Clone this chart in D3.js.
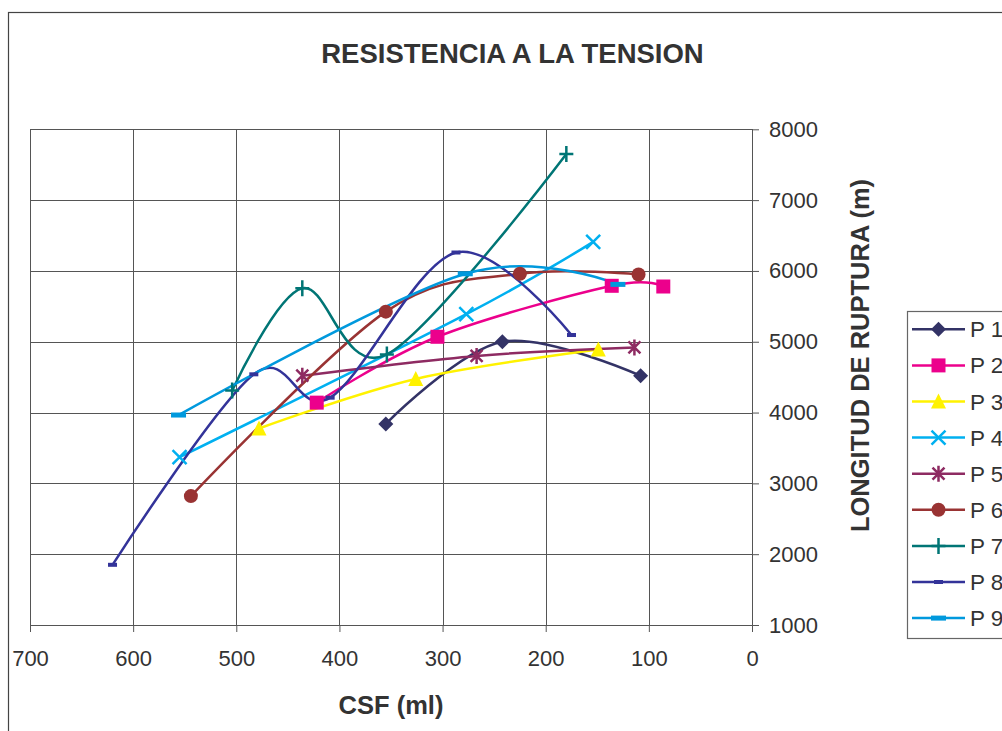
<!DOCTYPE html>
<html>
<head>
<meta charset="utf-8">
<script src="https://cdn.jsdelivr.net/npm/d3@7"></script>
<style>
  body { margin: 0; background: #fff; }
  text { font-family: "Liberation Sans", Arial, sans-serif; fill: #333; }
  .axis text { font-size: 22px; }
  .axis .domain { stroke: #555; }
  .axis line { stroke: #555; }
  .grid line { stroke: #555; stroke-width: 1; shape-rendering: crispEdges; }
  .series path { fill: none; stroke-width: 2.5; }
</style>
</head>
<body>
<div id="chart"></div>
<script>
// series names and colours
const seriesNames = ["P 1", "P 2", "P 3", "P 4", "P 5", "P 6", "P 7", "P 8", "P 9"];
const seriesColors = ["#333366", "#EC008C", "#FFF200", "#00B0F0", "#8E2B62", "#993333", "#007575", "#333399", "#0099DD"];
const seriesMarkers = ["diamond", "square", "triangle", "x", "star", "circle", "plus", "dashS", "dashL"];

// CSF (ml) and LONGITUD DE RUPTURA (m) per series
const p1Csf = [355, 242, 108];
const p1Lr  = [3840, 5000, 4520];
const p2Csf = [422, 305, 136, 86];
const p2Lr  = [4140, 5070, 5790, 5780];
const p3Csf = [478, 326, 149];
const p3Lr  = [3775, 4475, 4890];
const p4Csf = [555, 277, 154];
const p4Lr  = [3370, 5390, 6410];
const p5Csf = [436, 267, 114];
const p5Lr  = [4520, 4800, 4920];
const p6Csf = [544, 355, 225, 110];
const p6Lr  = [2820, 5425, 5960, 5950];
const p7Csf = [504, 436, 354, 180];
const p7Lr  = [4310, 5755, 4820, 7650];
const p8Csf = [620, 483, 409, 287, 175];
const p8Lr  = [1850, 4540, 4210, 6260, 5095];
const p9Csf = [556, 278, 130];
const p9Lr  = [3965, 5960, 5810];

const xTicks = [700, 600, 500, 400, 300, 200, 100, 0];
const yTicks = [1000, 2000, 3000, 4000, 5000, 6000, 7000, 8000];

const csfList = [p1Csf, p2Csf, p3Csf, p4Csf, p5Csf, p6Csf, p7Csf, p8Csf, p9Csf];
const lrList  = [p1Lr, p2Lr, p3Lr, p4Lr, p5Lr, p6Lr, p7Lr, p8Lr, p9Lr];

const series = seriesNames.map((name, i) => ({
    name: name,
    color: seriesColors[i],
    marker: seriesMarkers[i],
    values: csfList[i].map((c, j) => ({ csf: c, lr: lrList[i][j] }))
}));

const width = 1002, height = 731;
const plot = { left: 30, right: 752, top: 129.3, bottom: 625 };

const svg = d3.select("#chart").append("svg")
    .attr("width", width)
    .attr("height", height);

// outer chart frame (runs off the page on the right and bottom)
svg.append("rect")
    .attr("x", 8.5).attr("y", 12.5)
    .attr("width", 1200).attr("height", 1000)
    .attr("fill", "white")
    .attr("stroke", "#444")
    .attr("stroke-width", 1.2);

const xScale = d3.scaleLinear().domain([700, 0]).range([plot.left, plot.right]);
const yScale = d3.scaleLinear().domain([1000, 8000]).range([plot.bottom, plot.top]);

// gridlines
const grid = svg.append("g").attr("class", "grid");
grid.selectAll(".gx").data(xTicks).join("line")
    .attr("x1", d => Math.round(xScale(d)) + 0.5).attr("x2", d => Math.round(xScale(d)) + 0.5)
    .attr("y1", plot.top).attr("y2", plot.bottom);
grid.selectAll(".gy").data(yTicks).join("line")
    .attr("x1", plot.left).attr("x2", plot.right)
    .attr("y1", d => Math.round(yScale(d)) + 0.5).attr("y2", d => Math.round(yScale(d)) + 0.5);

// axes
const xAxis = d3.axisBottom(xScale).tickValues(xTicks).tickSize(7).tickSizeOuter(0).tickPadding(18)
    .tickFormat(d3.format("d"));
svg.append("g").attr("class", "axis")
    .attr("transform", `translate(0,${plot.bottom})`)
    .call(xAxis)
    .call(g => g.selectAll("text").attr("font-family", null).attr("font-size", null));

const yAxis = d3.axisRight(yScale).tickValues(yTicks).tickSize(7).tickSizeOuter(0).tickPadding(10)
    .tickFormat(d3.format("d"));
svg.append("g").attr("class", "axis")
    .attr("transform", `translate(${plot.right},0)`)
    .call(yAxis)
    .call(g => g.selectAll("text").attr("font-family", null).attr("font-size", null));

// series lines (smoothed)
const line = d3.line()
    .x(d => xScale(d.csf))
    .y(d => yScale(d.lr))
    .curve(d3.curveCardinal.tension(0));

const sg = svg.append("g").attr("class", "series");
sg.selectAll("path").data(series).join("path")
    .attr("d", d => line(d.values))
    .attr("stroke", d => d.color);

function drawMarker(g, type, color) {
    if (type === "diamond") {
        g.append("path").attr("d", "M0,-7.5L7.5,0L0,7.5L-7.5,0Z").attr("fill", color);
    } else if (type === "square") {
        g.append("rect").attr("x", -7).attr("y", -7).attr("width", 14).attr("height", 14).attr("fill", color);
    } else if (type === "triangle") {
        g.append("path").attr("d", "M0,-8L7.5,7L-7.5,7Z").attr("fill", color);
    } else if (type === "circle") {
        g.append("circle").attr("r", 7).attr("fill", color);
    } else if (type === "x") {
        g.append("path").attr("d", "M-7,-7L7,7M-7,7L7,-7")
            .attr("stroke", color).attr("stroke-width", 2.5).attr("fill", "none");
    } else if (type === "star") {
        g.append("path").attr("d", "M-6,-6L6,6M-6,6L6,-6M0,-8L0,8")
            .attr("stroke", color).attr("stroke-width", 2.5).attr("fill", "none");
    } else if (type === "plus") {
        g.append("path").attr("d", "M-7,0L7,0M0,-8L0,8")
            .attr("stroke", color).attr("stroke-width", 2.5).attr("fill", "none");
    } else if (type === "dashS") {
        g.append("rect").attr("x", -4.5).attr("y", -2).attr("width", 9).attr("height", 4).attr("fill", color);
    } else if (type === "dashL") {
        g.append("rect").attr("x", -7.5).attr("y", -2.5).attr("width", 15).attr("height", 5).attr("fill", color);
    }
}

// markers
series.forEach(s => {
    s.values.forEach(v => {
        const g = svg.append("g")
            .attr("transform", `translate(${xScale(v.csf)},${yScale(v.lr)})`);
        drawMarker(g, s.marker, s.color);
    });
});

// title
svg.append("text")
    .attr("x", 512.5).attr("y", 62.5)
    .attr("text-anchor", "middle")
    .attr("font-weight", "bold")
    .attr("font-size", 27.5)
    .text("RESISTENCIA A LA TENSION");

// axis titles
svg.append("text")
    .attr("x", (plot.left + plot.right) / 2).attr("y", 714)
    .attr("text-anchor", "middle")
    .attr("font-weight", "bold")
    .attr("font-size", 25.5)
    .text("CSF (ml)");

svg.append("text")
    .attr("transform", "translate(868.5,355.5) rotate(-90)")
    .attr("text-anchor", "middle")
    .attr("font-weight", "bold")
    .attr("font-size", 25.5)
    .text("LONGITUD DE RUPTURA (m)");

// legend
const legend = svg.append("g").attr("class", "legend");
legend.append("rect")
    .attr("x", 907.5).attr("y", 311.5)
    .attr("width", 200).attr("height", 327)
    .attr("fill", "white")
    .attr("stroke", "#666")
    .attr("stroke-width", 1.2);

series.forEach((s, i) => {
    const yy = 329.3 + i * 36.1;
    const row = legend.append("g");
    row.append("line")
        .attr("x1", 912).attr("x2", 965)
        .attr("y1", yy).attr("y2", yy)
        .attr("stroke", s.color).attr("stroke-width", 2.5);
    const mg = row.append("g").attr("transform", `translate(938.5,${yy})`);
    drawMarker(mg, s.marker, s.color);
    row.append("text")
        .attr("x", 970).attr("y", yy + 8)
        .attr("font-size", 22.5)
        .text(s.name);
});
</script>
</body>
</html>
